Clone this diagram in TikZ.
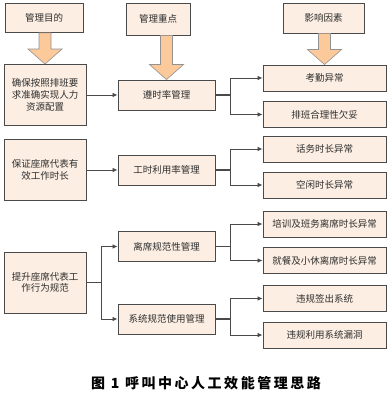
\documentclass[tikz,border=0pt]{standalone}
\usepackage{fontspec}
\newfontfamily\cjk{Noto Sans CJK SC}
\newfontfamily\cjkcap{Noto Sans CJK SC}[LetterSpace=18]
\usetikzlibrary{arrows.meta, positioning, calc}
\definecolor{boxfill}{HTML}{FCEEE3}
\definecolor{boxline}{HTML}{4A4A4A}
\definecolor{arrowfill}{HTML}{FBC99A}
\definecolor{txt}{HTML}{2E2E2E}

\begin{document}
\begin{tikzpicture}[
        x=1pt, y=-1pt,
        font=\cjk\fontsize{9.5}{11.7}\selectfont,
        base/.style={rectangle, draw=boxline, fill=boxfill, line width=0.9pt, align=center, inner sep=1pt, text=txt},
        head/.style={base, minimum height=30pt},
        goal/.style={base, minimum width=82pt, minimum height=61pt},
        mgmt/.style={base, minimum width=97pt, minimum height=30pt},
        cause/.style={base, minimum width=123pt, minimum height=26pt},
        connector/.style={-{Latex[length=5pt,width=4.5pt]}, line width=0.8pt, draw=boxline},
        stem/.style={line width=1.6pt, draw=boxline},
        bigarrow/.style={fill=arrowfill, draw=boxline!60, line width=0.6pt}
    ]
        \useasboundingbox (0,0) rectangle (389,395);

        % column heads
        \node (aimhd) [head, minimum width=78pt, minimum height=29pt] at (44,18) {管理目的};
        \node (focushd) [head, minimum width=64pt, minimum height=32pt] at (158,19) {管理重点};
        \node (causehd) [head, minimum width=81pt] at (323.5,18) {影响因素};

        % aims
        \node (aim1) [goal] at (45,95) {确保按照排班要\\求准确实现人力\\资源配置};
        \node (aim2) [goal] at (45,170) {保证座席代表有\\效工作时长};
        \node (aim3) [goal] at (45,282.5) {提升座席代表工\\作行为规范};

        % focus
        \node (onduty) [mgmt] at (166.5,95) {遵时率管理};
        \node (usage) [mgmt] at (166.5,170) {工时利用率管理};
        \node (leave) [mgmt] at (166.5,246.5) {离席规范性管理};
        \node (system) [mgmt] at (166.5,319) {系统规范使用管理};

        % causes
        \node (absent) [cause] at (324.5,78) {考勤异常};
        \node (shift) [cause] at (324.5,114.5) {排班合理性欠妥};
        \node (talk) [cause] at (324.5,149) {话务时长异常};
        \node (idle) [cause] at (324.5,185) {空闲时长异常};
        \node (train) [cause] at (324.5,224) {培训及班务离席时长异常};
        \node (meal) [cause] at (324.5,260.5) {就餐及小休离席时长异常};
        \node (logout) [cause] at (324.5,298.5) {违规签出系统};
        \node (loophole) [cause] at (324.5,335) {违规利用系统漏洞};

        % big arrows under the heads
        \foreach \from/\to in {aimhd/aim1, focushd/onduty, causehd/absent}
            \path [bigarrow] let \p1=(\from.south), \p2=(\to.north) in
                (\x2-6,\y1) -- (\x2+6,\y1) -- (\x2+6,\y2+15) -- (\x2+17,\y2+15)
                -- (\x2,\y2) -- (\x2-17,\y2+15) -- (\x2-6,\y2+15) -- cycle;

        \draw [connector] (aim1) -- (onduty);
        \draw [connector] (aim2) -- (usage);
        \draw [stem] (aim3.east) -- ++(15,0) coordinate (j3);
        \draw [connector] (j3) |- (leave);
        \draw [connector] (j3) |- (system);

        \foreach \m/\a/\b in {onduty/absent/shift, usage/talk/idle, leave/train/meal, system/logout/loophole} {
            \draw [stem] (\m.east) -- ++(15,0) coordinate (j\m);
            \draw [connector] (j\m) |- (\a);
            \draw [connector] (j\m) |- (\b);
        }

        \node (caption) at (206,383) {\cjkcap\fontsize{14}{16}\selectfont\bfseries 图 1 呼叫中心人工效能管理思路};
    \end{tikzpicture}
\end{document}
